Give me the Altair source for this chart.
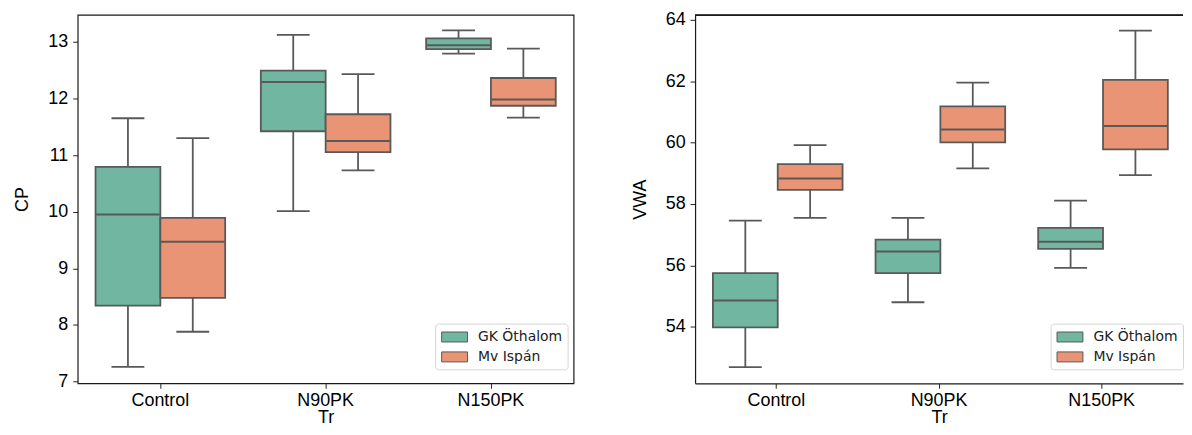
import altair as alt
import pandas as pd

treatments = ["Control", "N90PK", "N150PK"]
varieties = ["GK Öthalom", "Mv Ispán"]
colors = ["#71b6a1", "#e99575"]
LINE = "#595959"
FRAME = "#1a1a1a"

# CP box statistics: min, q1, median, q3, max (per treatment)
cp_gk_min = [7.26, 10.01, 12.79]
cp_gk_q1 = [8.34, 11.42, 12.87]
cp_gk_med = [9.95, 12.29, 12.94]
cp_gk_q3 = [10.79, 12.49, 13.06]
cp_gk_max = [11.65, 13.12, 13.20]

cp_mv_min = [7.88, 10.73, 11.66]
cp_mv_q1 = [8.48, 11.05, 11.87]
cp_mv_med = [9.47, 11.25, 11.98]
cp_mv_q3 = [9.89, 11.72, 12.36]
cp_mv_max = [11.30, 12.43, 12.88]

# VWA box statistics
vwa_gk_min = [52.69, 54.80, 55.92]
vwa_gk_q1 = [53.98, 55.75, 56.54]
vwa_gk_med = [54.86, 56.45, 56.77]
vwa_gk_q3 = [55.75, 56.84, 57.22]
vwa_gk_max = [57.46, 57.55, 58.11]

vwa_mv_min = [57.55, 59.16, 58.94]
vwa_mv_q1 = [58.46, 60.01, 59.78]
vwa_mv_med = [58.83, 60.43, 60.54]
vwa_mv_q3 = [59.30, 61.18, 62.04]
vwa_mv_max = [59.92, 61.95, 63.65]

cp_ticks = [7, 8, 9, 10, 11, 12, 13]
vwa_ticks = [54, 56, 58, 60, 62, 64]


def make_df(gk, mv):
    rows = []
    for v, s in zip(varieties, [gk, mv]):
        for i, t in enumerate(treatments):
            rows.append(dict(Tr=t, Variety=v, lo=s[0][i], q1=s[1][i],
                             med=s[2][i], q3=s[3][i], hi=s[4][i]))
    return pd.DataFrame(rows)


cp_df = make_df([cp_gk_min, cp_gk_q1, cp_gk_med, cp_gk_q3, cp_gk_max],
                [cp_mv_min, cp_mv_q1, cp_mv_med, cp_mv_q3, cp_mv_max])
vwa_df = make_df([vwa_gk_min, vwa_gk_q1, vwa_gk_med, vwa_gk_q3, vwa_gk_max],
                 [vwa_mv_min, vwa_mv_q1, vwa_mv_med, vwa_mv_q3, vwa_mv_max])


def panel(df, ytitle, domain, ticks, lx, ly, width, open_right):
    dom = dict(domain=True, domainColor=FRAME, domainWidth=1.2) if open_right else {}
    xscale = alt.Scale(paddingInner=0, paddingOuter=0)
    xenc = alt.X("Tr:N", sort=treatments, title="Tr", scale=xscale,
                 axis=alt.Axis(labelAngle=0, labelPadding=3, titlePadding=-1, **dom))
    xoff = alt.XOffset("Variety:N", sort=varieties,
                       scale=alt.Scale(paddingInner=0, paddingOuter=0.275))
    yscale = alt.Scale(domain=domain, nice=False, zero=False)
    base = alt.Chart(df).encode(x=xenc, xOffset=xoff)
    box = base.mark_bar(stroke=LINE, strokeWidth=1.8, opacity=1).encode(
        y=alt.Y("q1:Q", scale=yscale, title=ytitle,
                axis=alt.Axis(values=ticks, format="d", labelPadding=5,
                              titlePadding=16, **dom)),
        y2="q3:Q",
        color=alt.Color("Variety:N", sort=varieties,
                        scale=alt.Scale(domain=varieties, range=colors),
                        legend=alt.Legend(
                            title=None, orient="none", legendX=lx, legendY=ly,
                            symbolType="M-1.625,-0.625H1.625V0.625H-1.625Z",
                            symbolSize=256, symbolOffset=6,
                            symbolStrokeColor=LINE, symbolStrokeWidth=1,
                            symbolOpacity=1, labelOffset=15,
                            labelFont="DejaVu Sans", labelFontSize=14,
                            labelColor="#222222", rowPadding=4,
                            padding=5, fillColor="white",
                            strokeColor="#d5d5d5", cornerRadius=3)))
    wlo = base.mark_rule(color=LINE, strokeWidth=1.8).encode(y="lo:Q", y2="q1:Q")
    whi = base.mark_rule(color=LINE, strokeWidth=1.8).encode(y="q3:Q", y2="hi:Q")
    caplo = base.mark_tick(color=LINE, size=33, thickness=1.8, opacity=1).encode(y="lo:Q")
    caphi = base.mark_tick(color=LINE, size=33, thickness=1.8, opacity=1).encode(y="hi:Q")
    med = base.mark_tick(color=LINE, size=64, thickness=2, opacity=1).encode(y="med:Q")
    layers = [box, wlo, whi, caplo, caphi, med]
    if open_right:
        # top edge of the frame (the right edge is cut off in the original)
        topline = alt.Chart(df).mark_rule(color=FRAME, strokeWidth=1.2).encode(
            x=alt.value(0), x2=alt.value(width), y=alt.value(0.5))
        layers.append(topline)
    ch = alt.layer(*layers).properties(width=width, height=370)
    if open_right:
        ch = ch.properties(view=alt.ViewBackground(stroke=None))
    return ch


left = panel(cp_df, "CP", [6.97, 13.475], cp_ticks, 359, 310, 498, False)
right = panel(vwa_df, "VWA", [52.16, 64.16], vwa_ticks, 357, 310, 490, True)

chart = alt.hconcat(left, right, spacing=56).resolve_scale(
    color="independent"
).resolve_legend(
    color="independent"
).properties(
    padding={"left": 5, "top": 1, "right": 0, "bottom": 0}
).configure_view(
    stroke=FRAME, strokeWidth=1.2
).configure_axis(
    labelFont="Liberation Sans", labelFontSize=18, labelColor="black",
    titleFont="Liberation Sans", titleFontSize=18, titleFontWeight="normal",
    titleColor="black", tickColor="#222222", tickSize=5, tickWidth=1,
    domain=False, grid=False
)

chart.save("out.html", embed_options={"renderer": "svg", "actions": False})
